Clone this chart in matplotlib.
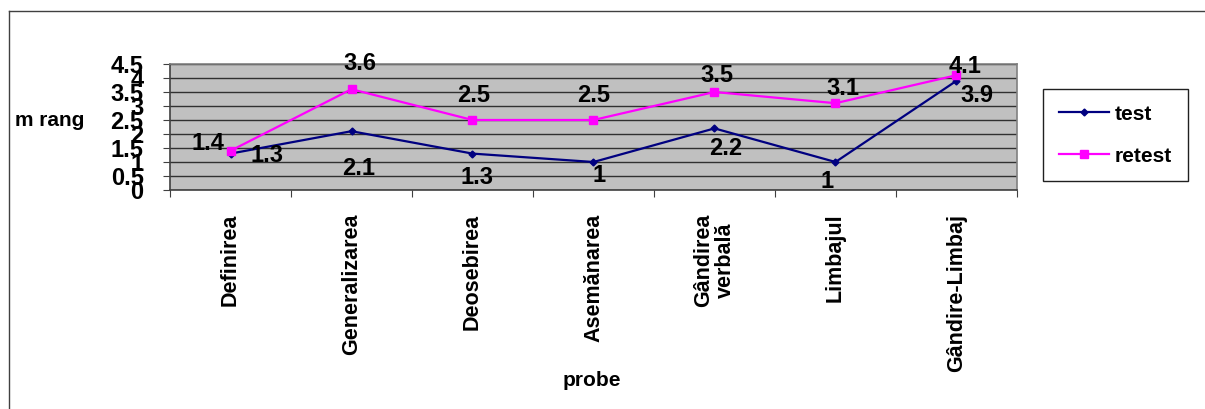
import matplotlib
matplotlib.use('Agg')
import matplotlib.pyplot as plt
from matplotlib.lines import Line2D

plt.rcParams['font.family'] = ['Liberation Sans', 'DejaVu Sans']
plt.rcParams['font.weight'] = 'bold'

categories = ['Definirea', 'Generalizarea', 'Deosebirea', 'Asemănarea',
              'Gândirea\nverbală', 'Limbajul', 'Gândire-Limbaj']
test = [1.3, 2.1, 1.3, 1, 2.2, 1, 3.9]
retest = [1.4, 3.6, 2.5, 2.5, 3.5, 3.1, 4.1]
y_ticks = [0, 0.5, 1, 1.5, 2, 2.5, 3, 3.5, 4, 4.5]

# label offsets in pixels (dx, dy)
test_offsets = [(37, -2), (7, -37), (5, -24), (6, -13), (11, -20), (-8, -20), (20, -15)]
retest_offsets = [(-23, 7), (8, 26), (1, 24), (0, 24), (2, 16), (7, 15), (9, 9)]

W, H = 1205, 409
fig = plt.figure(figsize=(W / 100, H / 100), dpi=100)
ax = fig.add_axes([170 / W, 1 - 190 / H, (1017 - 170) / W, (190 - 64) / H])

ax.set_facecolor('#C0C0C0')
x = list(range(len(categories)))
ax.plot(x, test, color='#000080', lw=1.6, marker='D', ms=3.5, label='test')
ax.plot(x, retest, color='#FF00FF', lw=1.6, marker='s', ms=6, label='retest')

for i, v in enumerate(test):
    ax.annotate(f'{v:g}', (i, v), xytext=test_offsets[i], textcoords='offset pixels',
                ha='center', va='center', fontsize=17, fontweight='bold')
for i, v in enumerate(retest):
    ax.annotate(f'{v:g}', (i, v), xytext=retest_offsets[i], textcoords='offset pixels',
                ha='center', va='center', fontsize=17, fontweight='bold')

ax.set_xlim(-0.5, len(categories) - 0.5)
ax.set_ylim(0, 4.5)
ax.set_yticks(y_ticks)
ax.set_yticklabels([f'{t:g}' for t in y_ticks], fontsize=17, fontweight='bold')
ax.tick_params(axis='y', direction='out', length=5, pad=14, color='#404040')
ax.yaxis.grid(True, color='#303030', lw=1)
ax.set_axisbelow(True)

# category boundaries as major ticks, names centred as minor ticks
ax.set_xticks([i - 0.5 for i in range(len(categories) + 1)])
ax.set_xticklabels([])
ax.set_xticks(x, minor=True)
ax.set_xticklabels(categories, minor=True, rotation=90, fontsize=15.5,
                   fontweight='bold', linespacing=1.1)
ax.tick_params(axis='x', which='major', direction='out', length=5, color='#404040')
ax.tick_params(axis='x', which='minor', length=0, pad=17)

for side in ['top', 'right']:
    ax.spines[side].set_color('#808080')
for side in ['left', 'bottom']:
    ax.spines[side].set_color('#404040')
for s in ax.spines.values():
    s.set_linewidth(1.2)

fig.text(50 / W, 1 - 121 / H, 'm rang', ha='center', va='center',
         fontsize=15, fontweight='bold')
fig.text(592 / W, 1 - 380 / H, 'probe', ha='center', va='center',
         fontsize=15, fontweight='bold')

leg = fig.legend(loc='upper left', bbox_to_anchor=(1043 / W, 1 - 89 / H),
                 borderaxespad=0, fontsize=15, handlelength=2.4,
                 labelspacing=1.1, fancybox=False, framealpha=1,
                 borderpad=0.75, handletextpad=0.3)
leg.get_frame().set_edgecolor('#202020')
leg.get_frame().set_linewidth(1)
for t in leg.get_texts():
    t.set_fontweight('bold')

# outer chart frame
fig.add_artist(Line2D([8.5 / W, 1], [1 - 10.5 / H, 1 - 10.5 / H],
                      transform=fig.transFigure, color='#404040', lw=1))
fig.add_artist(Line2D([8.5 / W, 8.5 / W], [0, 1 - 10.5 / H],
                      transform=fig.transFigure, color='#404040', lw=1))

fig.savefig('out.png', dpi=100)
